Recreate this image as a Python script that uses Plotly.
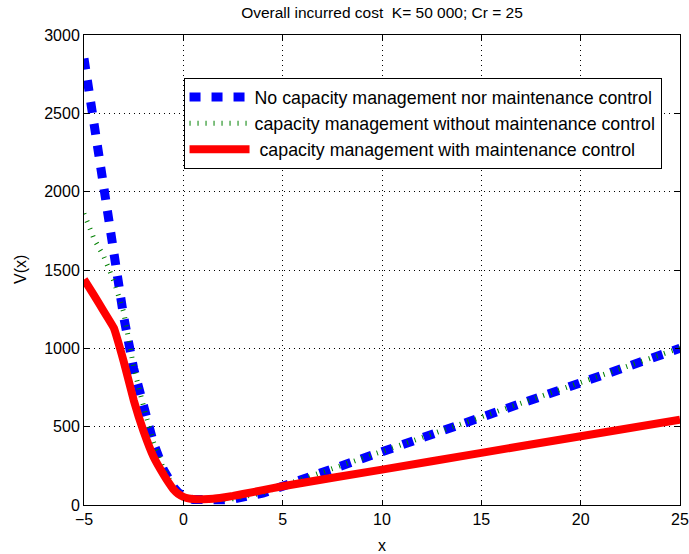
import plotly.graph_objects as go

x_vals = [-5, -4.5, -4, -3.5, -3, -2.5, -2, -1.5, -1, -0.75, -0.5, -0.25, 0, 0.25, 0.5, 1, 1.5, 2, 2.5, 3, 4, 5, 10, 15, 20, 25]
no_capacity = [2850, 2440, 1990, 1580, 1200, 870, 620, 395, 225, 165, 115, 78, 55, 42, 35, 30, 30, 33, 38, 48, 75, 120, 340, 560, 780, 1000]
capacity_no_maint = [1860, 1700, 1585, 1430, 1230, 880, 628, 400, 230, 168, 118, 80, 57, 44, 37, 32, 32, 35, 40, 50, 77, 122, 342, 562, 782, 1002]
capacity_with_maint = [1440, 1340, 1235, 1130, 915, 670, 470, 308, 195, 145, 100, 70, 52, 42, 38, 37, 40, 48, 58, 70, 95, 120, 226, 333, 439, 545]

names = [
    "No capacity management nor maintenance control",
    "capacity management without maintenance control",
    "\u00a0capacity management with maintenance control",
]
x_ticks = [-5, 0, 5, 10, 15, 20, 25]
y_ticks = [0, 500, 1000, 1500, 2000, 2500, 3000]
title_text = "Overall incurred cost  K= 50 000; Cr = 25"
x_title = "x"
y_title = "V(x)"

fig = go.Figure()
fig.add_trace(go.Scatter(x=x_vals, y=no_capacity, mode="lines", name=names[0],
                         line=dict(color="rgb(0,0,255)", width=9, dash="11px,11px")))
fig.add_trace(go.Scatter(x=x_vals, y=capacity_no_maint, mode="lines", name=names[1],
                         line=dict(color="rgb(0,128,0)", width=5, dash="1px,7px")))
fig.add_trace(go.Scatter(x=x_vals, y=capacity_with_maint, mode="lines", name=names[2],
                         line=dict(color="rgb(255,0,0)", width=8, shape="spline", smoothing=0.3)))

axis_common = dict(
    showline=True, linecolor="black", linewidth=1, mirror="ticks",
    ticks="inside", ticklen=5, tickcolor="black",
    showgrid=True, gridcolor="black", gridwidth=1, griddash="1px,4px",
    zeroline=False, tickfont=dict(size=16, color="black"), automargin=False,
    ticklabeloverflow="allow",
)

fig.update_layout(
    width=689, height=554,
    margin=dict(l=84, r=9, t=35, b=49),
    paper_bgcolor="white", plot_bgcolor="white",
    font=dict(family="Liberation Sans, Arial, sans-serif", color="black"),
    title=dict(text=title_text, xref="paper", x=0.5, xanchor="center",
               yref="container", y=0.9765, yanchor="middle", font=dict(size=15.5)),
    xaxis=dict(range=[-5, 25], tickvals=x_ticks, **axis_common),
    yaxis=dict(range=[0, 3000], tickvals=y_ticks, **axis_common),
    legend=dict(x=0.167, y=0.9085, xanchor="left", yanchor="top",
                bgcolor="white", bordercolor="black", borderwidth=1,
                font=dict(size=17.8), itemwidth=60, tracegroupgap=0),
    showlegend=True,
    hovermode=False,
    annotations=[
        dict(text=x_title, xref="paper", yref="paper", x=0.5, y=0, yshift=-40,
             xanchor="center", yanchor="middle", showarrow=False, font=dict(size=16)),
        dict(text=y_title, xref="paper", yref="paper", x=0, y=0.5, xshift=-64,
             xanchor="center", yanchor="middle", textangle=-90, showarrow=False,
             font=dict(size=16)),
    ],
)

fig.write_html(
    "out.html",
    config={"displayModeBar": False},
    post_script="document.body.style.margin='0';document.body.style.overflow='hidden';",
)
